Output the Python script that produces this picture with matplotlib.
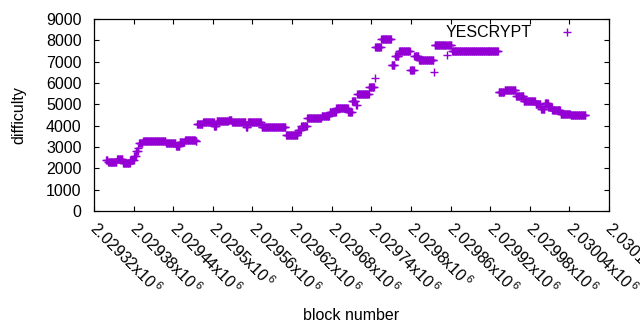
import numpy as np
import matplotlib
matplotlib.use("Agg")
import matplotlib.pyplot as plt
from matplotlib.transforms import ScaledTranslation

# =========================
# DATA
# =========================
# difficulty stays flat for runs of blocks: first block of each run + its value
RUN_START = [2029338, 2029341, 2029355, 2029364, 2029375, 2029381, 2029384,
             2029387, 2029388, 2029394, 2029429, 2029444, 2029450, 2029458,
             2029474, 2029476, 2029485, 2029502, 2029506, 2029524, 2029529,
             2029550, 2029553, 2029574, 2029611, 2029629, 2029634, 2029643,
             2029665, 2029677, 2029687, 2029705, 2029711, 2029717, 2029719,
             2029737, 2029745, 2029746, 2029755, 2029771, 2029776, 2029782,
             2029799, 2029805, 2029812, 2029835, 2029836, 2029855, 2029856,
             2029862, 2029933, 2029942, 2029959, 2029971, 2029989, 2029997,
             2030003, 2030008, 2030014, 2030027, 2030042]
RUN_DIFF = [2390, 2300, 2450, 2230, 2400, 2600, 2800,
            2950, 3200, 3280, 3180, 3030, 3230, 3330,
            3280, 4080, 4150, 4000, 4200, 4280, 4150,
            3950, 4150, 3920, 3540, 3800, 4000, 4380,
            4470, 4620, 4850, 4620, 5150, 4950, 5500,
            5800, 6230, 7700, 8050, 6840, 7250, 7480,
            6600, 7250, 7080, 6520, 7800, 7300, 7800,
            7500, 5600, 5650, 5400, 5150, 5000, 4800,
            5050, 4870, 4720, 4570, 4480]
LAST_BLOCK = 2030064

X_TICKS = np.arange(2029320, 2030101, 60)
X_TICK_LABELS = ["2.02932", "2.02938", "2.02944", "2.0295", "2.02956", "2.02962",
                 "2.02968", "2.02974", "2.0298", "2.02986", "2.02992", "2.02998",
                 "2.03004", "2.0301"]
Y_TICKS = np.arange(0, 9001, 1000)

COLOR = "#9400d3"

plt.rcParams['font.family'] = ['Liberation Sans', 'DejaVu Sans']
plt.rcParams['font.size'] = 11.5
plt.rcParams['mathtext.fontset'] = 'custom'
plt.rcParams['mathtext.rm'] = 'Liberation Sans'
plt.rcParams['mathtext.default'] = 'rm'

# one point per block
blocks = np.arange(RUN_START[0], LAST_BLOCK + 1)
idx = np.searchsorted(RUN_START, blocks, side='right') - 1
difficulty = np.array(RUN_DIFF)[idx]

fig = plt.figure(figsize=(6.4, 3.3), dpi=100)
ax = fig.add_axes([94 / 640, 1 - 211 / 330, 515 / 640, 192 / 330])

ax.plot(blocks, difficulty, linestyle='none', marker='+', markersize=5.5,
        markeredgewidth=1.0, color=COLOR)

ax.set_xlim(2029320, 2030100)
ax.set_ylim(0, 9000)
ax.set_xticks(X_TICKS)
ax.set_xticklabels([])
ax.set_yticks(Y_TICKS)

# rotated x tick labels, gnuplot style (start at the tick, run down-right)
shift = ScaledTranslation(6 / 100, -7 / 100, fig.dpi_scale_trans)
for xt, s in zip(X_TICKS, X_TICK_LABELS):
    ax.text(xt, 0, s + r"x$10^{\,6}$", transform=ax.get_xaxis_transform() + shift,
            rotation=-45, rotation_mode='anchor', ha='left', va='top',
            clip_on=False)

ax.tick_params(direction='in', length=3.5, width=0.8, top=True, right=True,
               colors='black')
ax.tick_params(axis='y', pad=9)
for s in ax.spines.values():
    s.set_linewidth(0.9)

ax.set_xlabel("block number")
ax.xaxis.set_label_coords(0.5, -0.505)
ax.set_ylabel("difficulty", labelpad=14)

# key, top right like gnuplot
ax.text(0.8505, 0.932, "YESCRYPT", transform=ax.transAxes, ha='right',
        va='center')
ax.plot([0.9184], [0.932], transform=ax.transAxes, linestyle='none',
        marker='+', markersize=5.5, markeredgewidth=1.0, color=COLOR,
        clip_on=False)

fig.savefig("out.png", dpi=100)
